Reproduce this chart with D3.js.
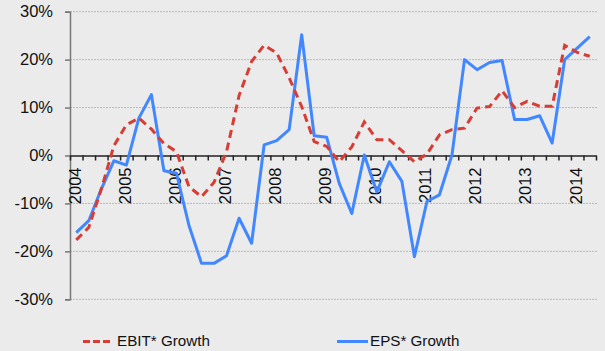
<!DOCTYPE html>
<html lang="en">
<head>
<meta charset="UTF-8">
<title>EBIT and EPS Growth</title>
<script src="https://d3js.org/d3.v7.min.js"></script>
<style>
    html, body { margin: 0; padding: 0; background: #ebebeb; }
    svg { display: block; font-family: "Liberation Sans", Arial, sans-serif; }
</style>
</head>
<body>
<svg id="chart" width="605" height="351"></svg>
<script>
    // Quarterly data, 2004 Q1 .. 2014 Q2
    const years = [2004, 2005, 2006, 2007, 2008, 2009, 2010, 2011, 2012, 2013, 2014];
    const quarters = years.flatMap(y => [1, 2, 3, 4].map(q => y + "Q" + q)).slice(0, 42);
    const yTicks = [-0.3, -0.2, -0.1, 0, 0.1, 0.2, 0.3];

    const ebitGrowth = [
        -17.6, -15.0, -7.0, 2.0, 6.4, 7.8, 5.5, 2.5, 0.8, -6.5,
        -8.6, -5.6, 0.8, 12.5, 19.6, 23.0, 21.4, 16.2, 10.2, 2.9,
        1.9, -1.3, 1.8, 7.0, 3.3, 3.3, 1.0, -1.3, 0.3, 4.3,
        5.4, 5.7, 9.9, 10.2, 13.5, 10.0, 11.3, 10.3, 10.3, 23.0,
        21.5, 20.7
    ];
    const epsGrowth = [
        -16.1, -13.6, -7.0, -1.1, -2.0, 7.8, 12.7, -3.2, -3.7, -14.6,
        -22.5, -22.5, -20.9, -13.1, -18.3, 2.2, 3.1, 5.4, 25.2, 4.1,
        3.8, -5.8, -12.1, 0.1, -7.6, -1.3, -5.4, -21.1, -9.6, -8.2,
        0.1, 20.0, 17.9, 19.4, 19.8, 7.5, 7.5, 8.3, 2.6, 20.0,
        22.4, 24.8
    ];

    const svg = d3.select("#chart");
    const plotLeft = 70, plotRight = 596, plotTop = 11.7, plotBottom = 299.3;

    const x = d3.scaleBand().domain(quarters).range([plotLeft, plotRight]);
    const xEdge = d3.scaleLinear().domain([0, quarters.length]).range([plotLeft, plotRight]);
    const y = d3.scaleLinear().domain([-0.3, 0.3]).range([plotBottom, plotTop]);

    // gridlines
    svg.append("g")
        .selectAll("line")
        .data(yTicks.filter(d => d !== 0))
        .join("line")
        .attr("x1", plotLeft).attr("x2", plotRight + 1)
        .attr("y1", d => y(d)).attr("y2", d => y(d))
        .attr("stroke", "#b8b8b8")
        .attr("stroke-width", 1)
        .attr("stroke-dasharray", "2,1");

    // y axis
    const yAxis = svg.append("g")
        .attr("transform", `translate(${plotLeft},0)`)
        .call(d3.axisLeft(y).tickValues(yTicks).tickSize(5).tickPadding(12)
            .tickFormat(d => Math.round(d * 100) + "%"));
    yAxis.select(".domain").attr("stroke", "#777").attr("stroke-width", 1.5);
    yAxis.selectAll(".tick line").attr("stroke", "#777").attr("stroke-width", 1.5);
    yAxis.selectAll("text").attr("font-size", "16.5px").attr("fill", "#111")
        .attr("font-family", "Liberation Sans, Arial, sans-serif");

    // x axis on zero line: quarter boundary ticks
    const xAxis = svg.append("g")
        .attr("transform", `translate(0,${y(0)})`)
        .call(d3.axisBottom(xEdge).tickValues(d3.range(quarters.length + 1))
            .tickSize(5).tickSizeOuter(0).tickFormat(""));
    xAxis.select(".domain").attr("stroke", "#222").attr("stroke-width", 1.5);
    xAxis.selectAll(".tick line").attr("stroke", "#222").attr("stroke-width", 1.5);

    // year labels, rotated
    svg.append("g")
        .selectAll("text")
        .data(quarters.filter(q => q.endsWith("Q1")))
        .join("text")
        .attr("transform", d => `translate(${x(d) + x.bandwidth() / 2},${y(0) + 12}) rotate(-90)`)
        .attr("text-anchor", "end")
        .attr("dominant-baseline", "middle")
        .attr("font-size", "16.5px")
        .attr("fill", "#111")
        .text(d => d.slice(0, 4));

    const line = d3.line()
        .x((d, i) => x(quarters[i]) + x.bandwidth() / 2)
        .y(d => y(d / 100));

    svg.append("path")
        .datum(epsGrowth)
        .attr("d", line)
        .attr("fill", "none")
        .attr("stroke", "#4187ff")
        .attr("stroke-width", 3)
        .attr("stroke-linejoin", "round");

    svg.append("path")
        .datum(ebitGrowth)
        .attr("d", line)
        .attr("fill", "none")
        .attr("stroke", "#d63d35")
        .attr("stroke-width", 3)
        .attr("stroke-dasharray", "8,5");

    // legend
    const legend = [
        { name: "EBIT* Growth", color: "#d63d35", dash: "7,3", x0: 83, x1: 111, tx: 117 },
        { name: "EPS* Growth", color: "#4187ff", dash: null, x0: 337, x1: 368, tx: 370 }
    ];
    const lg = svg.append("g");
    legend.forEach(l => {
        lg.append("line")
            .attr("x1", l.x0).attr("x2", l.x1)
            .attr("y1", 341.5).attr("y2", 341.5)
            .attr("stroke", l.color).attr("stroke-width", 3)
            .attr("stroke-dasharray", l.dash);
        lg.append("text")
            .attr("x", l.tx).attr("y", 341.5)
            .attr("dominant-baseline", "middle")
            .attr("font-size", "15.2px")
            .attr("fill", "#111")
            .text(l.name);
    });
</script>
</body>
</html>
